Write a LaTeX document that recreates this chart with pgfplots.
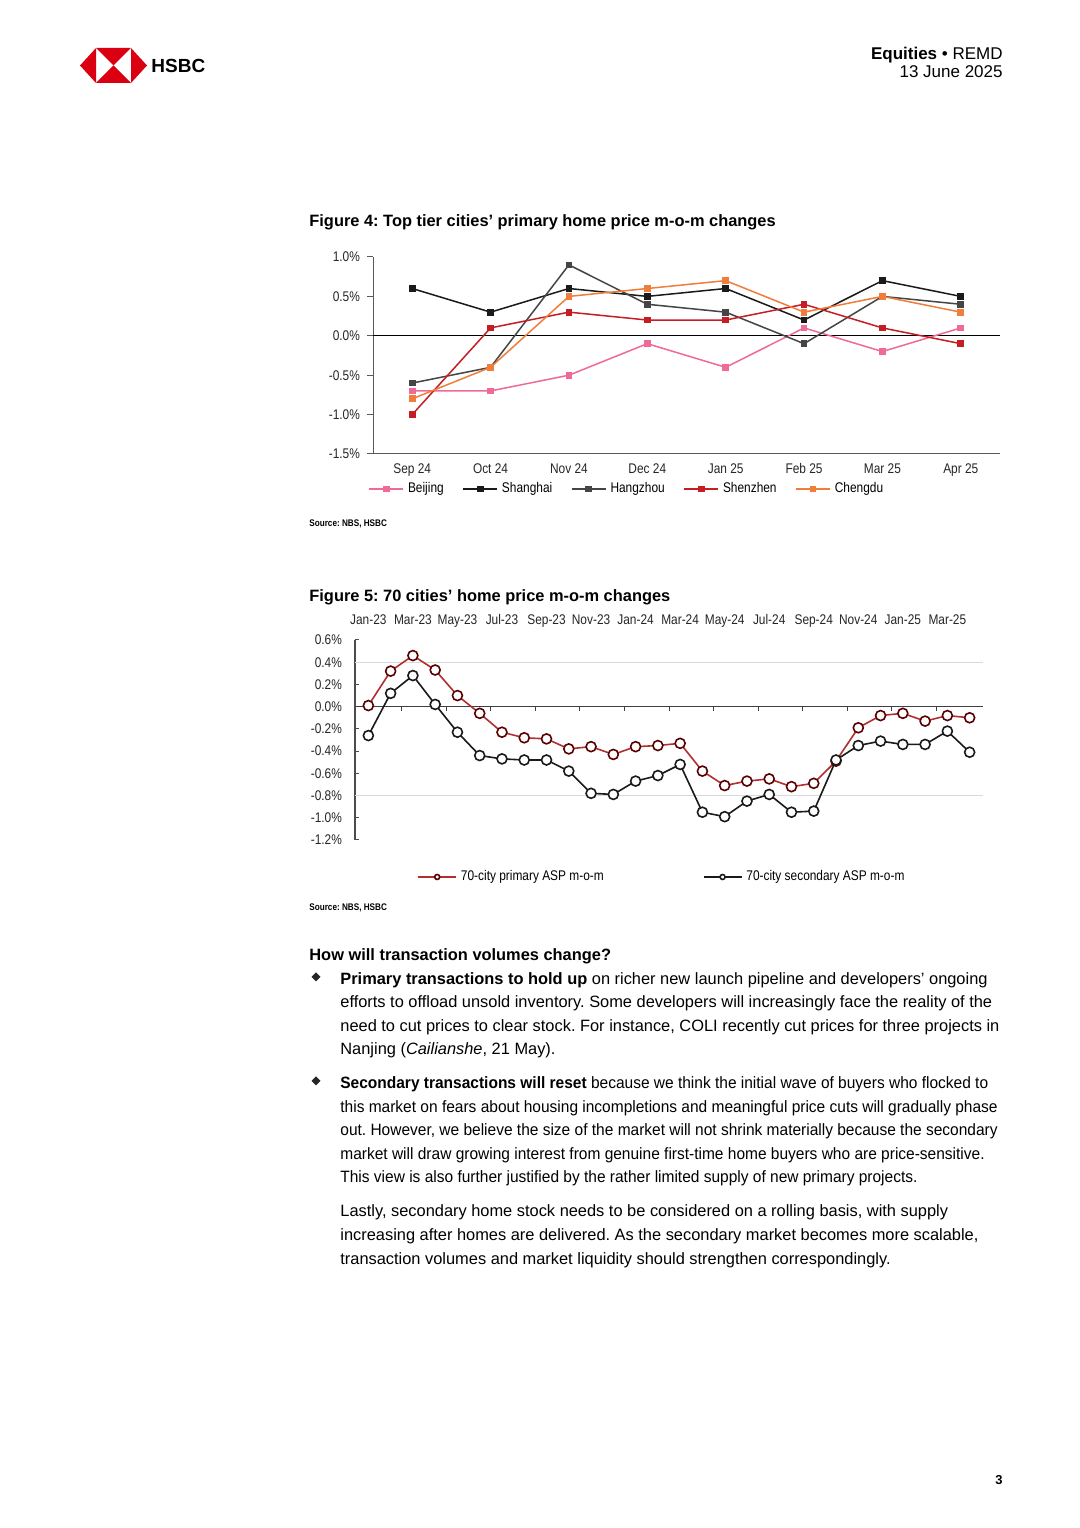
\documentclass[border=0pt]{standalone}
\usepackage{pgfplots}
\pgfplotsset{compat=1.18}
\usepackage{fontspec}
\setmainfont{Liberation Sans}
\newfontfamily\narrow[FakeStretch=0.85]{Liberation Sans}
\newfontfamily\cond[FakeStretch=0.945]{Liberation Sans}
\definecolor{hsbcred}{HTML}{DB0011}
\definecolor{cBeijing}{HTML}{EF6A97}
\definecolor{cShanghai}{HTML}{1A1A1A}
\definecolor{cHangzhou}{HTML}{454545}
\definecolor{cShenzhen}{HTML}{C41E24}
\definecolor{cChengdu}{HTML}{F07D3A}
\definecolor{cPrim}{HTML}{B03030}
\definecolor{cSec}{HTML}{1A1A1A}
\newcommand\tl[3]{\node[anchor=base west,inner sep=0pt] at (#1,{1528-#2}) {#3};}
\newcommand\tr[3]{\node[anchor=base east,inner sep=0pt] at (#1,{1528-#2}) {#3};}
\newcommand\body{\fontsize{8.2}{10}\selectfont}
\newcommand\bodyc{\cond\fontsize{8.2}{10}\selectfont}
\newcommand\dia[2]{\fill[black!85] (#1,{1528-#2}) +(0,4.5) -- +(4.5,0) -- +(0,-4.5) -- +(-4.5,0) -- cycle;}
\frenchspacing
\begin{document}
\frenchspacing
\begin{tikzpicture}[x=0.5pt,y=0.5pt]
\fill[white] (0,0) rectangle (1080,1528);
\useasboundingbox (0,0) rectangle (1080,1528);
% logo
\fill[hsbcred] (80,1462.5) -- (96,1480) -- (96,1445) -- cycle;
\fill[hsbcred] (147,1462.5) -- (131,1480) -- (131,1445) -- cycle;
\fill[hsbcred] (96,1480) -- (131,1480) -- (113.5,1462.5) -- cycle;
\fill[hsbcred] (96,1445) -- (131,1445) -- (113.5,1462.5) -- cycle;
\tl{151}{73}{\fontsize{9.5}{11}\selectfont\bfseries HSBC}
\tr{1003}{60}{\fontsize{8.5}{10}\selectfont\textbf{Equities} \textbullet\ REMD}
\tr{1003}{78}{\fontsize{8.5}{10}\selectfont 13 June 2025}
% titles
\tl{309}{227}{\body\bfseries Figure 4: Top tier cities' primary home price m-o-m changes}
\tl{309}{527}{\narrow\fontsize{4.8}{6}\selectfont\bfseries Source: NBS, HSBC}
\tl{309}{602}{\body\bfseries Figure 5: 70 cities' home price m-o-m changes}
\tl{309}{911}{\narrow\fontsize{4.8}{6}\selectfont\bfseries Source: NBS, HSBC}
% body text
\tl{309}{961}{\body\bfseries How will transaction volumes change?}
\dia{316}{977}
\tl{340}{985}{\body\textbf{Primary transactions to hold up} on richer new launch pipeline and developers' ongoing}
\tl{340}{1008}{\body efforts to offload unsold inventory. Some developers will increasingly face the reality of the}
\tl{340}{1032}{\body need to cut prices to clear stock. For instance, COLI recently cut prices for three projects in}
\tl{340}{1055}{\body Nanjing (\textit{Cailianshe}, 21 May).}
\dia{316}{1081}
\tl{340}{1089}{\bodyc\textbf{Secondary transactions will reset} because we think the initial wave of buyers who flocked to}
\tl{340}{1113}{\bodyc this market on fears about housing incompletions and meaningful price cuts will gradually phase}
\tl{340}{1136}{\bodyc out. However, we believe the size of the market will not shrink materially because the secondary}
\tl{340}{1160}{\bodyc market will draw growing interest from genuine first-time home buyers who are price-sensitive.}
\tl{340}{1183}{\bodyc This view is also further justified by the rather limited supply of new primary projects.}
\tl{340}{1217}{\body Lastly, secondary home stock needs to be considered on a rolling basis, with supply}
\tl{340}{1241}{\body increasing after homes are delivered. As the secondary market becomes more scalable,}
\tl{340}{1265}{\body transaction volumes and market liquidity should strengthen correspondingly.}
\tr{1003}{1485}{\fontsize{6.5}{8}\selectfont\bfseries 3}

% ---------- Chart 1 ----------
\begin{axis}[
  at={(186.5pt,537pt)}, anchor=south west, scale only axis,
  width=313.5pt, height=98.5pt,
  xmin=-0.5, xmax=7.5, ymin=-1.5, ymax=1.0,
  axis x line=bottom, axis y line=left,
  axis line style={-, black!65, line width=0.5pt},
  xtick={0,...,7},
  xticklabels={Sep 24,Oct 24,Nov 24,Dec 24,Jan 25,Feb 25,Mar 25,Apr 25},
  x tick style={draw=none},
  xticklabel style={text height=5pt, text depth=1.2pt, yshift=2pt},
  ytick={-1.5,-1,-0.5,0,0.5,1},
  yticklabels={-1.5\%,-1.0\%,-0.5\%,0.0\%,0.5\%,1.0\%},
  y tick style={black!65, line width=0.5pt},
  tick align=outside, major tick length=3pt,
  ticklabel style={font=\narrow\fontsize{7}{8}\selectfont, text=black!85},
  every axis plot/.append style={line width=0.75pt, mark=square*, mark size=1.3pt},
  legend style={at={(-0.008,-0.178)}, anchor=west, draw=none, fill=none,
    inner sep=0pt, font=\narrow\fontsize{7}{8}\selectfont,
    /tikz/every even column/.append style={column sep=7.3pt}},
  legend columns=5, legend cell align=left,
  clip=false,
]
\draw[black, line width=0.6pt] (axis cs:-0.5,0) -- (axis cs:7.5,0);
\addplot[color=cBeijing] coordinates {(0,-0.7) (1,-0.7) (2,-0.5) (3,-0.1) (4,-0.4) (5,0.1) (6,-0.2) (7,0.1)};
\addlegendentry{Beijing}
\addplot[color=cShanghai] coordinates {(0,0.6) (1,0.3) (2,0.6) (3,0.5) (4,0.6) (5,0.2) (6,0.7) (7,0.5)};
\addlegendentry{Shanghai}
\addplot[color=cHangzhou] coordinates {(0,-0.6) (1,-0.4) (2,0.9) (3,0.4) (4,0.3) (5,-0.1) (6,0.5) (7,0.4)};
\addlegendentry{Hangzhou}
\addplot[color=cShenzhen] coordinates {(0,-1.0) (1,0.1) (2,0.3) (3,0.2) (4,0.2) (5,0.4) (6,0.1) (7,-0.1)};
\addlegendentry{Shenzhen}
\addplot[color=cChengdu] coordinates {(0,-0.8) (1,-0.4) (2,0.5) (3,0.6) (4,0.7) (5,0.3) (6,0.5) (7,0.3)};
\addlegendentry{Chengdu}
\end{axis}

% ---------- Chart 2 ----------
\begin{axis}[
  at={(177.5pt,344pt)}, anchor=south west, scale only axis,
  width=314pt, height=100pt,
  xmin=-0.6, xmax=27.6, ymin=-1.2, ymax=0.6,
  axis x line=top, axis y line=left,
  x axis line style={draw=none},
  y axis line style={-, black!70, line width=0.6pt},
  xtick={0,2,...,26},
  xticklabels={Jan-23,Mar-23,May-23,Jul-23,Sep-23,Nov-23,Jan-24,Mar-24,May-24,Jul-24,Sep-24,Nov-24,Jan-25,Mar-25},
  x tick style={draw=none},
  xticklabel style={text height=5pt, text depth=1.2pt, yshift=3pt},
  ytick={-1.2,-1.0,-0.8,-0.6,-0.4,-0.2,0,0.2,0.4,0.6},
  yticklabels={-1.2\%,-1.0\%,-0.8\%,-0.6\%,-0.4\%,-0.2\%,0.0\%,0.2\%,0.4\%,0.6\%},
  y tick style={black!70, line width=0.5pt},
  tick align=inside, major tick length=2pt,
  ticklabel style={font=\narrow\fontsize{7}{8}\selectfont, text=black!85},
  yticklabel style={xshift=-3pt},
  every axis plot/.append style={line width=0.8pt, mark=*, mark size=2.5pt},
  legend image code/.code={\draw[mark repeat=2,mark phase=2,#1,/tikz/every mark/.append style={scale=0.5}] plot coordinates {(0pt,0pt) (9.5pt,0pt) (19pt,0pt)};},
  legend style={at={(0.0987,-0.185)}, anchor=west, draw=none, fill=none,
    inner sep=0pt, font=\narrow\fontsize{7}{8}\selectfont,
    /tikz/every even column/.append style={column sep=47.5pt}},
  legend columns=2, legend cell align=left,
  clip=false,
]
\draw[black!15, line width=0.6pt] (axis cs:-0.6,0.4) -- (axis cs:27.6,0.4);
\draw[black!15, line width=0.6pt] (axis cs:-0.6,-0.8) -- (axis cs:27.6,-0.8);
\draw[black!75, line width=0.7pt] (axis cs:-0.6,0) -- (axis cs:27.6,0);
\pgfplotsinvokeforeach{0,...,12}{\draw[black!75, line width=0.5pt] (axis cs:{2*#1+1.5},0) -- ++(0pt,-2pt);}
\addplot[color=cPrim, mark options={fill=white, draw=red!35!black}] coordinates {
(0,0.01) (1,0.32) (2,0.46) (3,0.33) (4,0.10) (5,-0.06) (6,-0.23) (7,-0.28) (8,-0.29) (9,-0.38)
(10,-0.36) (11,-0.43) (12,-0.36) (13,-0.35) (14,-0.33) (15,-0.58) (16,-0.71) (17,-0.67) (18,-0.65) (19,-0.72)
(20,-0.69) (21,-0.49) (22,-0.19) (23,-0.08) (24,-0.06) (25,-0.13) (26,-0.08) (27,-0.10)};
\addlegendentry{70-city primary ASP m-o-m}
\addplot[color=cSec, mark options={fill=white, draw=cSec}] coordinates {
(0,-0.26) (1,0.12) (2,0.28) (3,0.02) (4,-0.23) (5,-0.44) (6,-0.47) (7,-0.48) (8,-0.48) (9,-0.58)
(10,-0.78) (11,-0.79) (12,-0.67) (13,-0.62) (14,-0.52) (15,-0.95) (16,-0.99) (17,-0.85) (18,-0.79) (19,-0.95)
(20,-0.94) (21,-0.48) (22,-0.35) (23,-0.31) (24,-0.34) (25,-0.34) (26,-0.22) (27,-0.41)};
\addlegendentry{70-city secondary ASP m-o-m}
\end{axis}
\end{tikzpicture}
\end{document}
